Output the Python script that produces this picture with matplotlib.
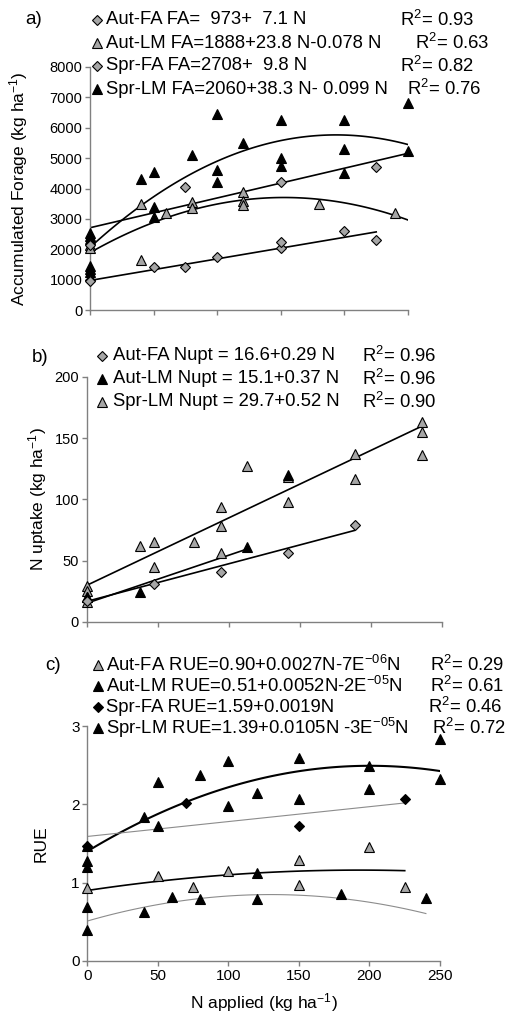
import numpy as np
import matplotlib
matplotlib.use("Agg")
import matplotlib.pyplot as plt
from matplotlib.lines import Line2D

plt.rcParams['font.family'] = ['Liberation Sans', 'DejaVu Sans']
plt.rcParams['mathtext.fontset'] = 'custom'
plt.rcParams['mathtext.rm'] = 'Liberation Sans'
plt.rcParams['mathtext.it'] = 'Liberation Sans:italic'
plt.rcParams['mathtext.default'] = 'regular'

# ---- panel a: accumulated forage (kg/ha) ----
a_autfa_n = [0, 0, 50, 75, 100, 150, 150, 200, 225]
a_autfa_y = [1000, 950, 1400, 1400, 1750, 2050, 2250, 2600, 2300]
a_sprfa_n = [0, 75, 150, 225]
a_sprfa_y = [2150, 4050, 4200, 4700]
a_autlm_n = [0, 0, 40, 40, 60, 80, 80, 120, 120, 120, 180, 240]
a_autlm_y = [2150, 2050, 3500, 1650, 3200, 3550, 3350, 3900, 3600, 3450, 3500, 3200]
a_sprlm_n = [0, 0, 0, 0, 0, 0, 40, 50, 50, 50, 80, 100, 100, 100, 120,
             150, 150, 150, 200, 200, 200, 250, 250]
a_sprlm_y = [2550, 2450, 2350, 1450, 1350, 1250, 4300, 4550, 3400, 3050, 5100,
             6450, 4600, 4200, 5500, 6250, 5000, 4750, 6250, 5300, 4500, 6800, 5250]
# trend coefficients (c0, c1, c2)
a_fit_autfa = [973, 7.1, 0]
a_fit_autlm = [1888, 23.8, -0.078]
a_fit_sprfa = [2708, 9.8, 0]
a_fit_sprlm = [2060, 38.3, -0.099]

# ---- panel b: N uptake ----
b_autfa_n = [0, 50, 100, 150, 200]
b_autfa_y = [17, 31, 41, 56, 79]
b_autlm_n = [0, 40, 120, 150]
b_autlm_y = [20, 24, 61, 120]
b_sprlm_n = [0, 0, 0, 0, 40, 50, 50, 80, 100, 100, 100, 120, 150, 150,
             200, 200, 250, 250, 250]
b_sprlm_y = [29, 25, 20, 16, 62, 65, 45, 65, 94, 78, 56, 127, 118, 98,
             137, 117, 163, 155, 136]
b_fit_autfa = [16.6, 0.29, 0]
b_fit_autlm = [15.1, 0.37, 0]
b_fit_sprlm = [29.7, 0.52, 0]

# ---- panel c: RUE ----
c_autfa_n = [0, 50, 75, 100, 150, 150, 200, 225]
c_autfa_y = [0.93, 1.08, 0.94, 1.15, 1.29, 0.97, 1.46, 0.95]
c_autlm_n = [0, 0, 40, 60, 80, 120, 120, 180, 240]
c_autlm_y = [0.69, 0.39, 0.62, 0.82, 0.79, 1.12, 0.79, 0.85, 0.80]
c_sprfa_n = [0, 70, 150, 225]
c_sprfa_y = [1.47, 2.02, 1.72, 2.07]
c_sprlm_n = [0, 0, 0, 40, 50, 50, 80, 100, 100, 120, 150, 150, 200, 200, 250, 250]
c_sprlm_y = [1.47, 1.28, 1.20, 1.84, 2.29, 1.72, 2.37, 2.55, 1.98, 2.15,
             2.59, 2.07, 2.49, 2.20, 2.32, 2.84]
c_fit_autfa = [0.90, 0.0027, -7e-6]
c_fit_autlm = [0.51, 0.0052, -2e-5]
c_fit_sprfa = [1.59, 0.0019, 0]
c_fit_sprlm = [1.40, 0.0109, -2.72e-5]

W, H = 513, 1015
fig = plt.figure(figsize=(W / 100, H / 100), dpi=100)

GREY = '#a6a6a6'
AXC = '#808080'
sty = {
    'gd': dict(marker='D', ms=5.5, mfc=GREY, mec='black', mew=0.8),
    'gt': dict(marker='^', ms=7.5, mfc=GREY, mec='black', mew=0.8),
    'bt': dict(marker='^', ms=7.5, mfc='black', mec='black', mew=0.8),
    'bd': dict(marker='D', ms=5.5, mfc='black', mec='black', mew=0.8),
}


def box(l, t, r, b):
    return [l / W, 1 - b / H, (r - l) / W, (b - t) / H]


def style_ax(ax, fs):
    for s in ['top', 'right']:
        ax.spines[s].set_visible(False)
    for s in ['left', 'bottom']:
        ax.spines[s].set_color(AXC)
        ax.spines[s].set_linewidth(1)
    ax.tick_params(direction='out', length=3.5, width=1, color=AXC,
                   labelsize=fs, pad=2)


def trend(ax, coef, n0, n1, **kw):
    n = np.linspace(n0, n1, 100)
    ax.plot(n, coef[0] + coef[1] * n + coef[2] * n ** 2, **kw)


def pts(ax, n, y, key):
    ax.plot(n, y, ls='none', clip_on=False, zorder=3, **sty[key])


fs_l = 13.3


def leg_row(py, key, txt, mx, tx, r2, r2x):
    fig.add_artist(Line2D([mx / W], [1 - py / H], transform=fig.transFigure,
                          ls='none', **sty[key]))
    fig.text(tx / W, 1 - py / H, txt, fontsize=fs_l, va='center', ha='left')
    fig.text(r2x / W, 1 - py / H, r2, fontsize=fs_l, va='center', ha='left')


line_k = dict(color='black', lw=1.2, zorder=2)

# panel a
ax1 = fig.add_axes(box(90, 67, 408, 310))
style_ax(ax1, 10.5)
trend(ax1, a_fit_autfa, 0, 225, **line_k)
trend(ax1, a_fit_autlm, 0, 250, **line_k)
trend(ax1, a_fit_sprfa, 0, 250, **line_k)
trend(ax1, a_fit_sprlm, 0, 250, **line_k)
pts(ax1, a_sprlm_n, a_sprlm_y, 'bt')
pts(ax1, a_autlm_n, a_autlm_y, 'gt')
pts(ax1, a_autfa_n, a_autfa_y, 'gd')
pts(ax1, a_sprfa_n, a_sprfa_y, 'gd')
ax1.set_xlim(0, 250)
ax1.set_ylim(0, 8000)
ax1.set_xticks(np.arange(0, 251, 50))
ax1.set_xticklabels([])
ax1.set_yticks(np.arange(0, 8001, 1000))
ax1.set_ylabel('Accumulated Forage (kg ha$^{-1}$)', fontsize=12.5)
ax1.yaxis.set_label_coords(-0.19, 0.5)

fig.text(25 / W, 1 - 20 / H, 'a)', fontsize=13.5, va='center')
leg_row(20, 'gd', 'Aut-FA FA=  973+  7.1 N', 97, 106, 'R$^2$= 0.93', 400)
leg_row(43, 'gt', 'Aut-LM FA=1888+23.8 N-0.078 N', 97, 106, 'R$^2$= 0.63', 415)
leg_row(66, 'gd', 'Spr-FA FA=2708+  9.8 N', 97, 106, 'R$^2$= 0.82', 400)
leg_row(89, 'bt', 'Spr-LM FA=2060+38.3 N- 0.099 N', 97, 106, 'R$^2$= 0.76', 407)

# panel b
ax2 = fig.add_axes(box(86.7, 377, 441.7, 621.7))
style_ax(ax2, 10.5)
trend(ax2, b_fit_autfa, 0, 200, **line_k)
trend(ax2, b_fit_autlm, 0, 120, **line_k)
trend(ax2, b_fit_sprlm, 0, 250, **line_k)
pts(ax2, b_sprlm_n, b_sprlm_y, 'gt')
pts(ax2, b_autlm_n, b_autlm_y, 'bt')
pts(ax2, b_autfa_n, b_autfa_y, 'gd')
ax2.set_xlim(0, 265)
ax2.set_ylim(0, 200)
ax2.set_xticks(np.arange(0, 266, 53))
ax2.set_xticklabels([])
ax2.set_yticks(np.arange(0, 201, 50))
ax2.set_ylabel('N uptake (kg ha$^{-1}$)', fontsize=12.5)
ax2.yaxis.set_label_coords(-0.105, 0.5)

fig.text(32 / W, 1 - 357 / H, 'b)', fontsize=13.5, va='center')
leg_row(356, 'gd', 'Aut-FA Nupt = 16.6+0.29 N', 102, 113, 'R$^2$= 0.96', 362)
leg_row(379, 'bt', 'Aut-LM Nupt = 15.1+0.37 N', 102, 113, 'R$^2$= 0.96', 362)
leg_row(402, 'gt', 'Spr-LM Nupt = 29.7+0.52 N', 102, 113, 'R$^2$= 0.90', 362)

# panel c
ax3 = fig.add_axes(box(87.3, 726, 440, 961))
style_ax(ax3, 11)
trend(ax3, c_fit_autfa, 0, 225, **line_k)
trend(ax3, c_fit_sprlm, 0, 250, color='black', lw=1.5, zorder=2)
trend(ax3, c_fit_autlm, 0, 240, color='#8c8c8c', lw=0.8, zorder=2)
trend(ax3, c_fit_sprfa, 0, 225, color='#8c8c8c', lw=0.8, zorder=2)
pts(ax3, c_sprlm_n, c_sprlm_y, 'bt')
pts(ax3, c_autlm_n, c_autlm_y, 'bt')
pts(ax3, c_autfa_n, c_autfa_y, 'gt')
pts(ax3, c_sprfa_n, c_sprfa_y, 'bd')
ax3.set_xlim(0, 250)
ax3.set_ylim(0, 3)
ax3.set_xticks(np.arange(0, 251, 50))
ax3.set_yticks([0, 1, 2, 3])
ax3.set_xlabel('N applied (kg ha$^{-1}$)', fontsize=12.5, labelpad=6)
ax3.set_ylabel('RUE', fontsize=12.5)
ax3.yaxis.set_label_coords(-0.11, 0.5)

fig.text(45 / W, 1 - 665 / H, 'c)', fontsize=13.5, va='center')
leg_row(665, 'gt', 'Aut-FA RUE=0.90+0.0027N-7E$^{-06}$N', 98, 106, 'R$^2$= 0.29', 430)
leg_row(686, 'bt', 'Aut-LM RUE=0.51+0.0052N-2E$^{-05}$N', 98, 106, 'R$^2$= 0.61', 430)
leg_row(707, 'bd', 'Spr-FA RUE=1.59+0.0019N', 98, 106, 'R$^2$= 0.46', 428)
leg_row(728, 'bt', 'Spr-LM RUE=1.39+0.0105N -3E$^{-05}$N', 98, 106, 'R$^2$= 0.72', 432)

fig.savefig('out.png', dpi=100)
